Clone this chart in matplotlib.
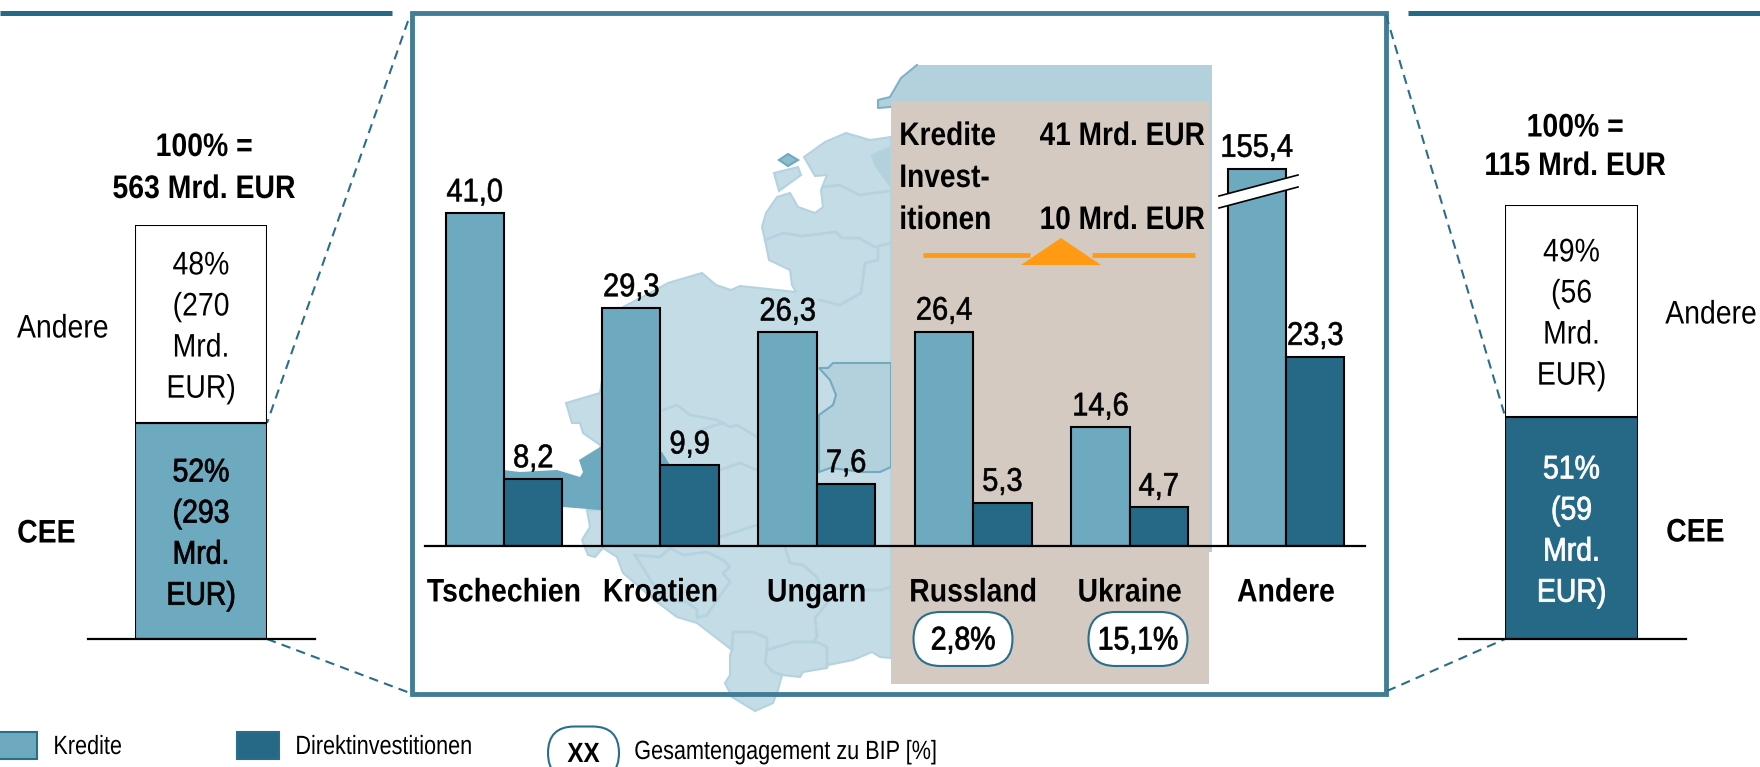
##################################
# Engagement in CEE: stacked totals left/right, grouped bars in the middle, map behind
import numpy as np
import matplotlib
matplotlib.use("Agg")
import matplotlib.pyplot as plt
from matplotlib.patches import Polygon, Rectangle, FancyBboxPatch
from matplotlib.patheffects import AbstractPathEffect
from matplotlib.transforms import Affine2D

plt.rcParams['font.family'] = ['Liberation Sans', 'DejaVu Sans']

##################################
# Data
countries = ['Tschechien', 'Kroatien', 'Ungarn', 'Russland', 'Ukraine', 'Andere']
kredite = [41.0, 29.3, 26.3, 26.4, 14.6, 155.4]
direkt = [8.2, 9.9, 7.6, 5.3, 4.7, 23.3]
bip_labels = {'Russland': '2,8%', 'Ukraine': '15,1%'}

left_shares = [52, 48]
left_labels = ['52%\n(293\nMrd.\nEUR)', '48%\n(270\nMrd.\nEUR)']
right_shares = [51, 49]
right_labels = ['51%\n(59\nMrd.\nEUR)', '49%\n(56\nMrd.\nEUR)']

##################################
# Map outlines (figure pixels)
land = [(804,157),(825,142),(846,133),(870,140),(891,137),(891,658),(880,657),(872,652),(853,660),(828,665),(827,668),
        (803,672),(800,677),(782,675),(778,690),(773,703),(755,711),(732,697),(725,683),(730,675),(730,655),(732,650),
        (697,623),(677,617),(657,602),(623,573),(617,557),(603,548),(595,557),(588,555),(582,540),(590,527),(587,510),
        (600,510),(610,470),(600,445),(583,433),(580,423),(572,423),(566,403),(600,393),(610,330),(623,307),(650,293),
        (668,283),(702,273),(716,285),(731,290),(740,286),(796,292),(792,285),(790,270),(769,260),(765,240),(762,227),
        (766,213),(777,197),(790,193),(798,207),(815,213),(823,207),(821,190),(827,175),(815,176)]
island_a = [(779,160),(788,154),(798,160),(788,166)]
island_b = [(774,173),(798,167),(801,175),(779,191)]
lake = [(891,147),(872,155),(875,165),(891,187)]
russia = [(917,65),(1212,65),(1212,552),(891,552),(891,107),(878,108),(878,100),(890,97),(901,78)]
belarus = [(833,363),(891,363),(891,467),(880,472),(862,472),(847,470),(830,468),(819,472),(819,415),(833,405),(836,395),(830,380),(819,368),(828,368)]
slovenia = [(503,470),(520,472),(557,470),(580,477),(583,472),(579,460),(600,447),(662,452),(670,465),(660,510),(600,510),(563,507),(503,500)]
borders = [[(765,240),(783,233),(802,236),(836,232),(842,238),(859,238),(875,247),(891,243)],
           [(823,187),(840,185),(859,195),(890,191)],
           [(878,247),(878,260),(865,263),(861,293),(840,305),(819,300)],
           [(663,410),(677,405),(690,415),(717,420),(730,427),(737,425),(757,437)],
           [(700,430),(723,423)],
           [(720,470),(740,463),(757,470)],
           [(720,537),(757,525)],
           [(635,555),(660,557),(670,548),(683,555),(707,552),(723,560),(730,567),(723,573),(730,582),(717,600),(707,615),(697,618),(697,610),(687,602),(663,600),(635,555)],
           [(785,547),(790,563),(803,565),(817,577),(827,603),(815,618),(817,637),(813,642)],
           [(732,650),(733,632),(753,632),(767,638),(767,650),(765,663),(773,672),(782,675)],
           [(767,650),(793,642),(817,642),(827,647),(827,665)],
           [(865,590),(880,590),(891,587)]]

##################################
# Colours
c_kredite, c_direkt = '#6DA9BF', '#256986'
c_frame, c_land, c_land2, c_border = '#437C95', '#C4DCE6', '#B2D1DC', '#B4D3DF'
c_tan, c_orange = '#D5CAC1', '#FF9A12'
fs = 23.5 #main text size (pt)

##################################
# No narrow font is installed: real text, squeezed horizontally when it is drawn
# lw > 0 thickens the regular weight a little (the reference sits between regular and bold)
class Squeeze(AbstractPathEffect):
    def __init__(self, sx=0.87, anchor='center', lw=0):
        super().__init__()
        self.sx, self.anchor, self.lw = sx, anchor, lw
    def draw_path(self, renderer, gc, tpath, affine, rgbFace=None):
        bb = tpath.get_extents(affine)
        cx = {'center': 0.5*(bb.x0+bb.x1), 'left': bb.x0, 'right': bb.x1}[self.anchor]
        t = affine + Affine2D().translate(-cx, 0).scale(self.sx, 1).translate(cx, 0)
        gc0 = renderer.new_gc()
        gc0.copy_properties(gc)
        if self.lw:
            gc0.set_linewidth(self.lw)
            gc0.set_foreground(rgbFace)
        renderer.draw_path(gc0, tpath, t, rgbFace)
        gc0.restore()

W, H = 1760, 767
fig = plt.figure(figsize=(W/100, H/100), dpi=100)

def px_axes(x0, x1, ytop, ybottom, **kw):
    return fig.add_axes([x0/W, 1-ybottom/H, (x1-x0)/W, (ybottom-ytop)/H], **kw)

##################################
# Background in figure pixels
bg = px_axes(0, W, 0, H, zorder=0)
bg.set_xlim(0, W)
bg.set_ylim(H, 0)
bg.axis('off')
bg.add_patch(Polygon(russia, fc=c_land2, ec='none'))
bg.plot([917,901,890,878,878,890], [65,78,97,100,108,107], color='#7FB1C6', lw=1.5)
bg.add_patch(Polygon(land, fc=c_land, ec=c_border, lw=1.5))
bg.add_patch(Polygon(lake, fc=c_land2, ec=c_border, lw=1.5))
bg.add_patch(Polygon(island_a, fc='#8FBDCE', ec='#6DA9BF', lw=1.5))
bg.add_patch(Polygon(island_b, fc=c_land, ec=c_border, lw=1.5))
bg.add_patch(Polygon(belarus, fc=c_land2, ec='#74AAC0', lw=1.5))
bg.add_patch(Polygon(slovenia, fc=c_kredite, ec='none'))
for b in borders:
    bg.plot(*zip(*b), color=c_border, lw=2)
bg.add_patch(Rectangle((891, 101), 318, 583, fc=c_tan, ec='none'))

# frame, top rules, dashed connectors
bg.add_patch(Rectangle((412, 13), 974, 681, fc='none', ec=c_frame, lw=3.5))
bg.plot([0, 392], [12.5, 12.5], color=c_direkt, lw=3.6, solid_capstyle='butt')
bg.plot([1408, 1760], [12.5, 12.5], color=c_direkt, lw=3.6, solid_capstyle='butt')
for xs, ys in [([408,267],[21,423]), ([267,410],[639,693]), ([1386,1505],[15,416]), ([1387,1505],[691,639])]:
    bg.plot(xs, ys, color='#2A6E8C', lw=1.5, ls=(0, (4.5, 3)))

##################################
# Grouped bars; the scale is compressed above the break so that 155,4 fits
def forward(y):
    y = np.asarray(y, dtype=float)
    return np.where(y <= 45, y, 45 + (y-45)*0.01359)
def inverse(y):
    y = np.asarray(y, dtype=float)
    return np.where(y <= 45, y, 45 + (y-45)/0.01359)

ax = px_axes(425, 1365, 60, 545.5, zorder=1)
ax.patch.set_alpha(0)
x = np.arange(len(countries))
width = 58.4/156.4
ax.bar(x-width/2, kredite, width, color=c_kredite, edgecolor='k', linewidth=1.5)
ax.bar(x+width/2, direkt, width, color=c_direkt, edgecolor='k', linewidth=1.5)
ax.set_yscale('function', functions=(forward, inverse))
ax.set_ylim(0, 1141)
ax.set_xlim((425-504)/156.4, (1365-504)/156.4)
for s in ['top', 'left', 'right']:
    ax.spines[s].set_visible(False)
ax.spines['bottom'].set_linewidth(1.6)
ax.set_yticks([])
ax.minorticks_off()
ax.set_xticks(x, countries, fontsize=fs, fontweight='bold')
ax.tick_params(axis='x', length=0, pad=23)
ax.tick_params(axis='y', which='both', length=0, labelleft=False)
for lab in ax.get_xticklabels():
    lab.set_path_effects([Squeeze(0.87)])
for xi, k, d in zip(x, kredite, direkt):
    for xb, v in [(xi-width/2, k), (xi+width/2, d)]:
        ax.annotate(f'{v:.1f}'.replace('.', ','), (xb, v), xytext=(0, 8.5), textcoords='offset points',
                    ha='center', va='baseline', fontsize=fs, path_effects=[Squeeze(0.89, lw=0.45)])

##################################
# Stacked totals
def stacked(x0, x1, ytop, ybase, shares, labels, cee_color, cee_text):
    a = px_axes(x0, x1, ytop, ybase, zorder=1)
    a.patch.set_alpha(0)
    a.bar(0, shares[0], 1, color=cee_color, edgecolor='k', linewidth=1.5)
    a.bar(0, shares[1], 1, bottom=shares[0], color='white', edgecolor='k', linewidth=1.5)
    a.set_xlim(-0.5, 0.5)
    a.set_ylim(0, sum(shares))
    a.axis('off')
    a.annotate(labels[0], (0, shares[0]/2), xytext=(0, -2.5), textcoords='offset points', ha='center', va='center',
               fontsize=fs, color=cee_text, linespacing=1.42, path_effects=[Squeeze(0.87, lw=0.6)])
    a.annotate(labels[1], (0, shares[0]+shares[1]/2), xytext=(0, -2.5), textcoords='offset points', ha='center', va='center',
               fontsize=fs, linespacing=1.42, path_effects=[Squeeze(0.87)])

stacked(135, 267, 224.7, 638.7, left_shares, left_labels, c_kredite, 'k')
stacked(1505, 1638, 204.7, 638.7, right_shares, right_labels, c_direkt, 'white')

##################################
# Foreground: everything annotated in pixels
fg = px_axes(0, W, 0, H, zorder=2)
fg.patch.set_alpha(0)
fg.set_xlim(0, W)
fg.set_ylim(H, 0)
fg.axis('off')
fg.plot([88, 315], [638.7, 638.7], color='k', lw=1.6)
fg.plot([1459, 1686], [638.7, 638.7], color='k', lw=1.6)

squeeze_b = [Squeeze(0.87)]
fg.text(204, 156, '100% =', ha='center', va='baseline', fontsize=fs, fontweight='bold', path_effects=squeeze_b)
fg.text(204, 198, '563 Mrd. EUR', ha='center', va='baseline', fontsize=fs, fontweight='bold', path_effects=squeeze_b)
fg.text(1575, 136.5, '100% =', ha='center', va='baseline', fontsize=fs, fontweight='bold', path_effects=squeeze_b)
fg.text(1575, 175, '115 Mrd. EUR', ha='center', va='baseline', fontsize=fs, fontweight='bold', path_effects=squeeze_b)
fg.text(17, 329, 'Andere', va='center', fontsize=fs, path_effects=[Squeeze(0.87, 'left')])
fg.text(17, 534, 'CEE', va='center', fontsize=fs, fontweight='bold', path_effects=[Squeeze(0.87, 'left')])
fg.text(1757, 315, 'Andere', ha='right', va='center', fontsize=fs, path_effects=[Squeeze(0.87, 'right')])
fg.text(1666, 533, 'CEE', va='center', fontsize=fs, fontweight='bold', path_effects=[Squeeze(0.87, 'left')])

# axis break on the Andere bar
fg.add_patch(Polygon([(1219,196),(1298,175),(1298,187),(1219,208)], fc='white', ec='none'))
fg.plot([1219,1298], [196,175], color='k', lw=1.2)
fg.plot([1219,1298], [208,187], color='k', lw=1.2)

# box in the tan panel
for txt, yb in [('Kredite',145), ('Invest-',187), ('itionen',229)]:
    fg.text(899, yb, txt, va='baseline', fontsize=fs, fontweight='bold', path_effects=[Squeeze(0.86, 'left')])
for txt, yb in [('41 Mrd. EUR',145), ('10 Mrd. EUR',229)]:
    fg.text(1205, yb, txt, ha='right', va='baseline', fontsize=fs, fontweight='bold', path_effects=[Squeeze(0.86, 'right')])
fg.plot([923, 1030], [255, 255], color=c_orange, lw=3.4, solid_capstyle='butt')
fg.plot([1092, 1195], [255, 255], color=c_orange, lw=3.4, solid_capstyle='butt')
fg.add_patch(Polygon([(1021,265),(1101,265),(1061,238)], fc=c_orange, ec='none'))

# pills
def pill(xc, yc, w, h, txt, size=fs, weight='normal', lw=0.6):
    fg.add_patch(FancyBboxPatch((xc-w/2+h/2, yc), w-h, 0, boxstyle=f'round,pad={h/2},rounding_size={h/2}',
                                fc='white', ec='#2A6E8C', lw=1.5))
    fg.text(xc, yc+2, txt, ha='center', va='center', fontsize=size, fontweight=weight, path_effects=[Squeeze(0.87, lw=lw)])
pill(963, 639, 99, 54, bip_labels['Russland'])
pill(1138, 639, 99, 54, bip_labels['Ukraine'])
pill(583.5, 753, 71, 53, 'XX', 20, 'bold', 0)

# legend
fg.add_patch(Rectangle((-2, 732), 39, 27, fc=c_kredite, ec='#2A6E8C', lw=1.5))
fg.add_patch(Rectangle((237, 732), 42, 27, fc=c_direkt, ec='#2A6E8C', lw=1.5))
squeeze_l = [Squeeze(0.82, 'left')]
fg.text(53, 747, 'Kredite', va='center', fontsize=19, path_effects=squeeze_l)
fg.text(295, 747, 'Direktinvestitionen', va='center', fontsize=19, path_effects=squeeze_l)
fg.text(634, 752, 'Gesamtengagement zu BIP [%]', va='center', fontsize=19, path_effects=squeeze_l)

fig.savefig('out.png', dpi=100)
